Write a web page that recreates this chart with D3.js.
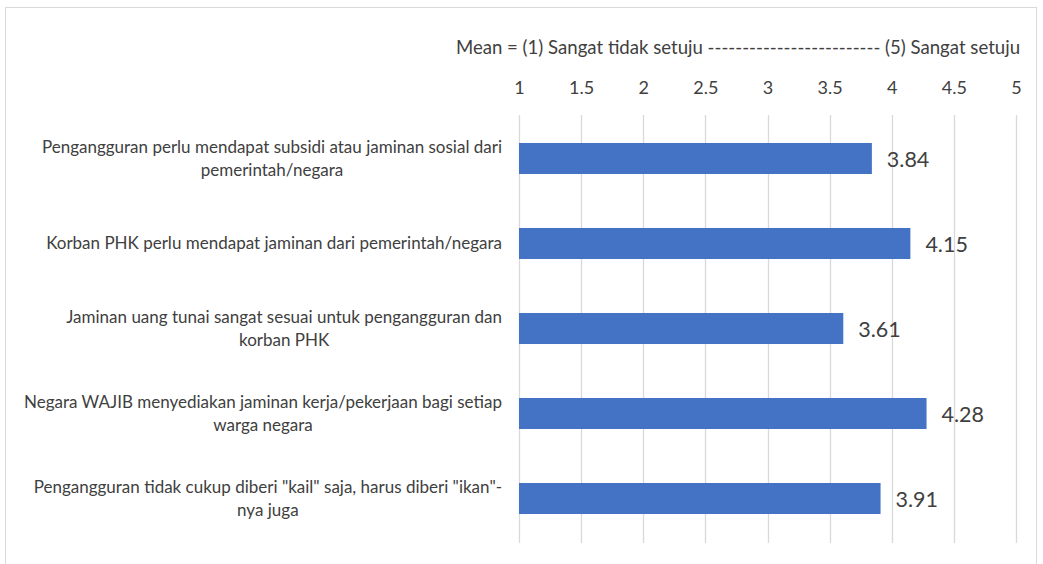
<!DOCTYPE html>
<html>
<head>
<meta charset="utf-8">
<script src="https://cdn.jsdelivr.net/npm/d3@7"></script>
<style>
  html, body { margin: 0; padding: 0; background: #ffffff; }
  svg { display: block; }
</style>
</head>
<body>
<svg id="chart" width="1043" height="564"></svg>
<script>
// Survey statements (top to bottom) and their mean scores
const categories = [
  ["Pengangguran perlu mendapat subsidi atau jaminan sosial dari", "pemerintah/negara"],
  ["Korban PHK perlu mendapat jaminan dari pemerintah/negara"],
  ["Jaminan uang tunai sangat sesuai untuk pengangguran dan", "korban PHK"],
  ["Negara WAJIB menyediakan jaminan kerja/pekerjaan bagi setiap", "warga negara"],
  ["Pengangguran tidak cukup diberi \"kail\" saja, harus diberi \"ikan\"-", "nya juga"]
];
const means = [3.84, 4.15, 3.61, 4.28, 3.91];
const tickValues = [1, 1.5, 2, 2.5, 3, 3.5, 4, 4.5, 5];
const axisTitle = "Mean = (1) Sangat tidak setuju ------------------------- (5) Sangat setuju";

const svg = d3.select("#chart");
const font = "Lato, sans-serif";
const textColor = "#404040";

// chart frame
svg.append("rect")
  .attr("x", 5.5).attr("y", 7.5)
  .attr("width", 1031).attr("height", 570)
  .attr("fill", "#fff").attr("stroke", "#d9d9d9").attr("stroke-width", 1);

const x = d3.scaleLinear().domain([1, 5]).range([519, 1016]);
const y = d3.scaleBand().domain(d3.range(categories.length)).range([116, 541]).paddingInner(0.635).paddingOuter(0.3175);

// vertical gridlines
svg.append("g").selectAll("line").data(tickValues).join("line")
  .attr("x1", d => Math.round(x(d)) + 0.5).attr("x2", d => Math.round(x(d)) + 0.5)
  .attr("y1", 115).attr("y2", 543)
  .attr("stroke", "#d9d9d9").attr("stroke-width", 1.3);

// top axis tick labels
const axis = d3.axisTop(x).tickValues(tickValues).tickSize(0).tickPadding(0)
  .tickFormat(d => String(d));
const axisG = svg.append("g").attr("transform", "translate(0,94)").call(axis);
axisG.select(".domain").remove();
axisG.selectAll("text")
  .attr("font-family", font).attr("font-size", 18).attr("fill", textColor);

// axis title
svg.append("text")
  .attr("x", 1020).attr("y", 54)
  .attr("text-anchor", "end")
  .attr("font-family", font).attr("font-size", 18.6).attr("fill", textColor)
  .text(axisTitle);

// bars
svg.append("g").selectAll("rect").data(means).join("rect")
  .attr("x", x(1))
  .attr("y", (d, i) => y(i))
  .attr("width", d => x(d) - x(1))
  .attr("height", y.bandwidth())
  .attr("fill", "#4472C4");

// value labels
svg.append("g").selectAll("text").data(means).join("text")
  .attr("x", d => x(d) + 15)
  .attr("y", (d, i) => y(i) + y.bandwidth() / 2 + 8)
  .attr("font-family", font).attr("font-size", 21.5).attr("fill", textColor)
  .text(d => d.toFixed(2));

// category labels: centred lines, block right-aligned to the plot
const labelRight = 502;
const labelG = svg.append("g");
categories.forEach((lines, i) => {
  const cy = y(i) + y.bandwidth() / 2;
  const lh = 23;
  const t = labelG.append("text")
    .attr("font-family", font).attr("font-size", 17).attr("fill", textColor)
    .attr("text-anchor", "middle");
  const spans = lines.map((s, k) => t.append("tspan")
    .attr("y", cy + 5.5 + (k - (lines.length - 1) / 2) * lh)
    .text(s));
  const maxW = d3.max(spans, sp => sp.node().getComputedTextLength());
  spans.forEach(sp => sp.attr("x", labelRight - maxW / 2));
});
</script>
</body>
</html>
